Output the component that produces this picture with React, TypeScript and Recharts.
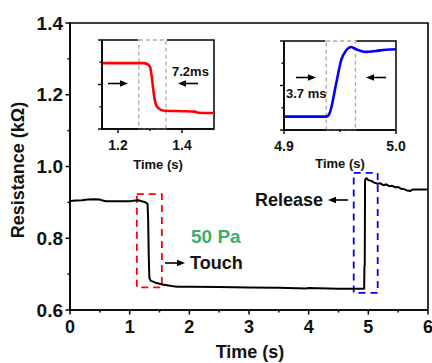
import { LineChart, Line, XAxis, YAxis, ReferenceArea } from 'recharts';

// main trace: time (s) vs resistance (kΩ)
const mainTime = [
  0, 0.1, 0.2, 0.3, 0.4, 0.5, 0.55, 0.6, 0.7, 0.8, 0.9, 1.0, 1.1, 1.15, 1.2, 1.25, 1.28, 1.3, 1.31, 1.32, 1.33,
  1.35, 1.45, 1.55, 1.7, 1.8, 2.0, 2.5, 3.0, 3.5, 3.95, 4.0, 4.5, 4.9, 4.93, 4.935, 4.94, 4.945, 4.95, 4.97,
  5.0, 5.05, 5.1, 5.15, 5.2, 5.25, 5.3, 5.35, 5.4, 5.45, 5.5, 5.55, 5.6, 5.65, 5.7, 5.75, 5.85, 6.0,
];
const mainRes = [
  0.904, 0.905, 0.906, 0.908, 0.909, 0.908, 0.905, 0.903, 0.903, 0.903, 0.903, 0.903, 0.905, 0.906, 0.903, 0.901, 0.899, 0.895, 0.85, 0.75, 0.69,
  0.682, 0.675, 0.671, 0.667, 0.665, 0.665, 0.664, 0.663, 0.662, 0.66, 0.661, 0.659, 0.659, 0.66, 0.723, 0.725, 0.958, 0.965, 0.967,
  0.962, 0.96, 0.955, 0.952, 0.953, 0.948, 0.95, 0.945, 0.946, 0.942, 0.943, 0.938, 0.937, 0.933, 0.932, 0.936, 0.936, 0.936,
];

// touch inset (1.15 - 1.5 s)
const touchTime = [1.15, 1.28, 1.29, 1.3, 1.305, 1.31, 1.315, 1.32, 1.33, 1.34, 1.4, 1.44, 1.45, 1.5];
const touchRes = [0.896, 0.896, 0.893, 0.88, 0.84, 0.78, 0.73, 0.705, 0.69, 0.683, 0.68, 0.678, 0.673, 0.672];

// release inset (4.9 - 5.0 s)
const releaseTime = [4.9, 4.938, 4.9406, 4.9466, 4.951, 4.9555, 4.96, 4.963, 4.973, 4.982, 4.991, 5.0];
const releaseRes = [0.66, 0.66, 0.674, 0.809, 0.913, 0.958, 0.973, 0.966, 0.951, 0.955, 0.961, 0.963];

const mainXTicks = [0, 0.5, 1, 1.5, 2, 2.5, 3, 3.5, 4, 4.5, 5, 5.5, 6];
const mainYTicks = [0.6, 0.7, 0.8, 0.9, 1.0, 1.1, 1.2, 1.3, 1.4];
const insetYTicks = [0.6, 0.7, 0.8, 0.9, 1.0];
const touchXTicks = [1.2, 1.3, 1.4];
const releaseXTicks = [4.9, 4.95, 5.0];

const mainData = mainTime.map((t, i) => ({ t, r: mainRes[i] }));
const touchData = touchTime.map((t, i) => ({ t, r: touchRes[i] }));
const releaseData = releaseTime.map((t, i) => ({ t, r: releaseRes[i] }));

const FONT = '"Liberation Sans", Arial, sans-serif';

const isMajor = (v: number, step: number) => Math.abs(Math.round(v / step) * step - v) < 1e-6;

function MainXTick({ x, y, payload }: any) {
  const major = isMajor(payload.value, 1);
  return (
    <g>
      <line x1={x} x2={x} y1={y} y2={y + (major ? 4.5 : 2.5)} stroke="#000" strokeWidth={1.5} />
      {major && (
        <text x={x} y={y + 17} textAnchor="middle" dominantBaseline="central" fontSize={18} fontWeight="bold" fontFamily={FONT} fill="#111">
          {payload.value}
        </text>
      )}
    </g>
  );
}

function MainYTick({ x, y, payload }: any) {
  const major = isMajor(payload.value, 0.2);
  return (
    <g>
      <line x1={x - (major ? 4.5 : 2.5)} x2={x} y1={y} y2={y} stroke="#000" strokeWidth={1.5} />
      {major && (
        <text x={x - 7} y={y} textAnchor="end" dominantBaseline="central" fontSize={19} fontWeight="bold" fontFamily={FONT} fill="#111">
          {payload.value.toFixed(1)}
        </text>
      )}
    </g>
  );
}

function insetXTick(majorStep: number) {
  return ({ x, y, payload }: any) => {
    const major = isMajor(payload.value, majorStep);
    return (
      <g>
        <line x1={x} x2={x} y1={y} y2={y + (major ? 4 : 2)} stroke="#000" strokeWidth={1.4} />
        {major && (
          <text x={x} y={y + 15.5} textAnchor="middle" dominantBaseline="central" fontSize={14} fontWeight="bold" fontFamily={FONT} fill="#111">
            {payload.value.toFixed(1)}
          </text>
        )}
      </g>
    );
  };
}

function InsetYTick({ x, y, payload }: any) {
  const major = isMajor(payload.value, 0.2);
  return <line x1={x - (major ? 4 : 2.5)} x2={x} y1={y} y2={y} stroke="#000" strokeWidth={1.4} />;
}

function Arrow({ from, to, y }: { from: number; to: number; y: number }) {
  const dir = to > from ? 1 : -1;
  const head = 8;
  return (
    <g>
      <line x1={from} x2={to - dir * head} y1={y} y2={y} stroke="#000" strokeWidth={1.6} />
      <polygon points={`${to},${y} ${to - dir * head},${y - 3.2} ${to - dir * head},${y + 3.2}`} fill="#000" />
    </g>
  );
}

function Inset({ data, color, domain, ticks, majorStep, box }: any) {
  return (
    <LineChart width={140} height={131} data={data} margin={{ top: 2, right: 17, left: 0, bottom: 0 }}>
      <XAxis
        type="number"
        dataKey="t"
        domain={domain}
        ticks={ticks}
        interval={0}
        allowDataOverflow
        height={40}
        tickSize={0}
        tickMargin={0}
        tickLine={false}
        tick={insetXTick(majorStep)}
        axisLine={{ stroke: '#000', strokeWidth: 1.5 }}
      />
      <YAxis
        type="number"
        domain={[0.6, 1.0]}
        ticks={insetYTicks}
        interval={0}
        width={11}
        tickSize={0}
        tickMargin={0}
        tickLine={false}
        tick={<InsetYTick />}
        axisLine={{ stroke: '#000', strokeWidth: 1.5 }}
      />
      <ReferenceArea x1={domain[0]} x2={domain[1]} y1={0.6} y2={1.0} fill="none" stroke="#000" strokeWidth={1.5} />
      <ReferenceArea x1={box[0]} x2={box[1]} fill="none" stroke="#fff" strokeWidth={1.8} />
      <ReferenceArea x1={box[0]} x2={box[1]} fill="none" stroke="#aaa" strokeWidth={1.3} strokeDasharray="4 3" />
      <Line type="monotone" dataKey="r" stroke={color} strokeWidth={2.6} dot={false} isAnimationActive={false} />
    </LineChart>
  );
}

export default function App() {
  return (
    <div style={{ position: 'absolute', left: 0, top: 0, width: 432, height: 363, background: '#fff', fontFamily: FONT }}>
      <LineChart width={432} height={363} data={mainData} margin={{ top: 23, right: 4, left: 8, bottom: 0 }}>
        <XAxis
          type="number"
          dataKey="t"
          domain={[0, 6]}
          ticks={mainXTicks}
          interval={0}
          height={53}
          tickSize={0}
          tickMargin={0}
          tickLine={false}
          tick={<MainXTick />}
          axisLine={{ stroke: '#000', strokeWidth: 1.6 }}
        />
        <YAxis
          type="number"
          domain={[0.6, 1.4]}
          ticks={mainYTicks}
          interval={0}
          width={62}
          tickSize={0}
          tickMargin={0}
          tickLine={false}
          tick={<MainYTick />}
          axisLine={{ stroke: '#000', strokeWidth: 1.6 }}
        />
        <ReferenceArea x1={0} x2={6} y1={0.6} y2={1.4} fill="none" stroke="#000" strokeWidth={1.6} />
        <ReferenceArea x1={1.12} x2={1.54} y1={0.663} y2={0.923} fill="none" stroke="#ff0000" strokeWidth={1.8} strokeDasharray="7 5" />
        <ReferenceArea x1={4.755} x2={5.157} y1={0.648} y2={0.982} fill="none" stroke="#0000ff" strokeWidth={1.8} strokeDasharray="7 5" />
        <Line type="linear" dataKey="r" stroke="#000" strokeWidth={2} dot={false} isAnimationActive={false} />
      </LineChart>

      <div style={{ position: 'absolute', left: 91, top: 38 }}>
        <Inset data={touchData} color="#ff0000" domain={[1.15, 1.5]} ticks={touchXTicks} majorStep={0.2} box={[1.265, 1.35]} />
      </div>
      <div style={{ position: 'absolute', left: 273, top: 38.7 }}>
        <Inset data={releaseData} color="#0000ff" domain={[4.9, 5.0]} ticks={releaseXTicks} majorStep={0.1} box={[4.9377, 4.9638]} />
      </div>

      <svg width={432} height={363} style={{ position: 'absolute', left: 0, top: 0, pointerEvents: 'none' }} fontFamily={FONT} fontWeight="bold">
        <text x={250} y={352} textAnchor="middle" dominantBaseline="central" fontSize={18} fill="#111">Time (s)</text>
        <text x={18} y={170} textAnchor="middle" dominantBaseline="central" fontSize={18} fill="#111" transform="rotate(-90 18 170)">Resistance (kΩ)</text>

        <text x={158} y={164} textAnchor="middle" dominantBaseline="central" fontSize={13} fill="#111">Time (s)</text>
        <text x={340} y={163.5} textAnchor="middle" dominantBaseline="central" fontSize={13} fill="#111">Time (s)</text>

        <text x={172} y={71} dominantBaseline="central" fontSize={13} fill="#111">7.2ms</text>
        <Arrow from={108} to={128} y={83.5} />
        <Arrow from={198} to={178} y={83.5} />

        <text x={286} y={93.5} dominantBaseline="central" fontSize={13} fill="#111">3.7 ms</text>
        <Arrow from={296} to={316} y={77.5} />
        <Arrow from={386} to={366} y={77.5} />

        <text x={255} y={200} dominantBaseline="central" fontSize={18} fill="#111">Release</text>
        <Arrow from={348} to={328} y={200} />
        <text x={191} y={236} dominantBaseline="central" fontSize={19} fill="#3aad6e">50 Pa</text>
        <Arrow from={165} to={185} y={263} />
        <text x={190} y={263} dominantBaseline="central" fontSize={18} fill="#111">Touch</text>
      </svg>
    </div>
  );
}
